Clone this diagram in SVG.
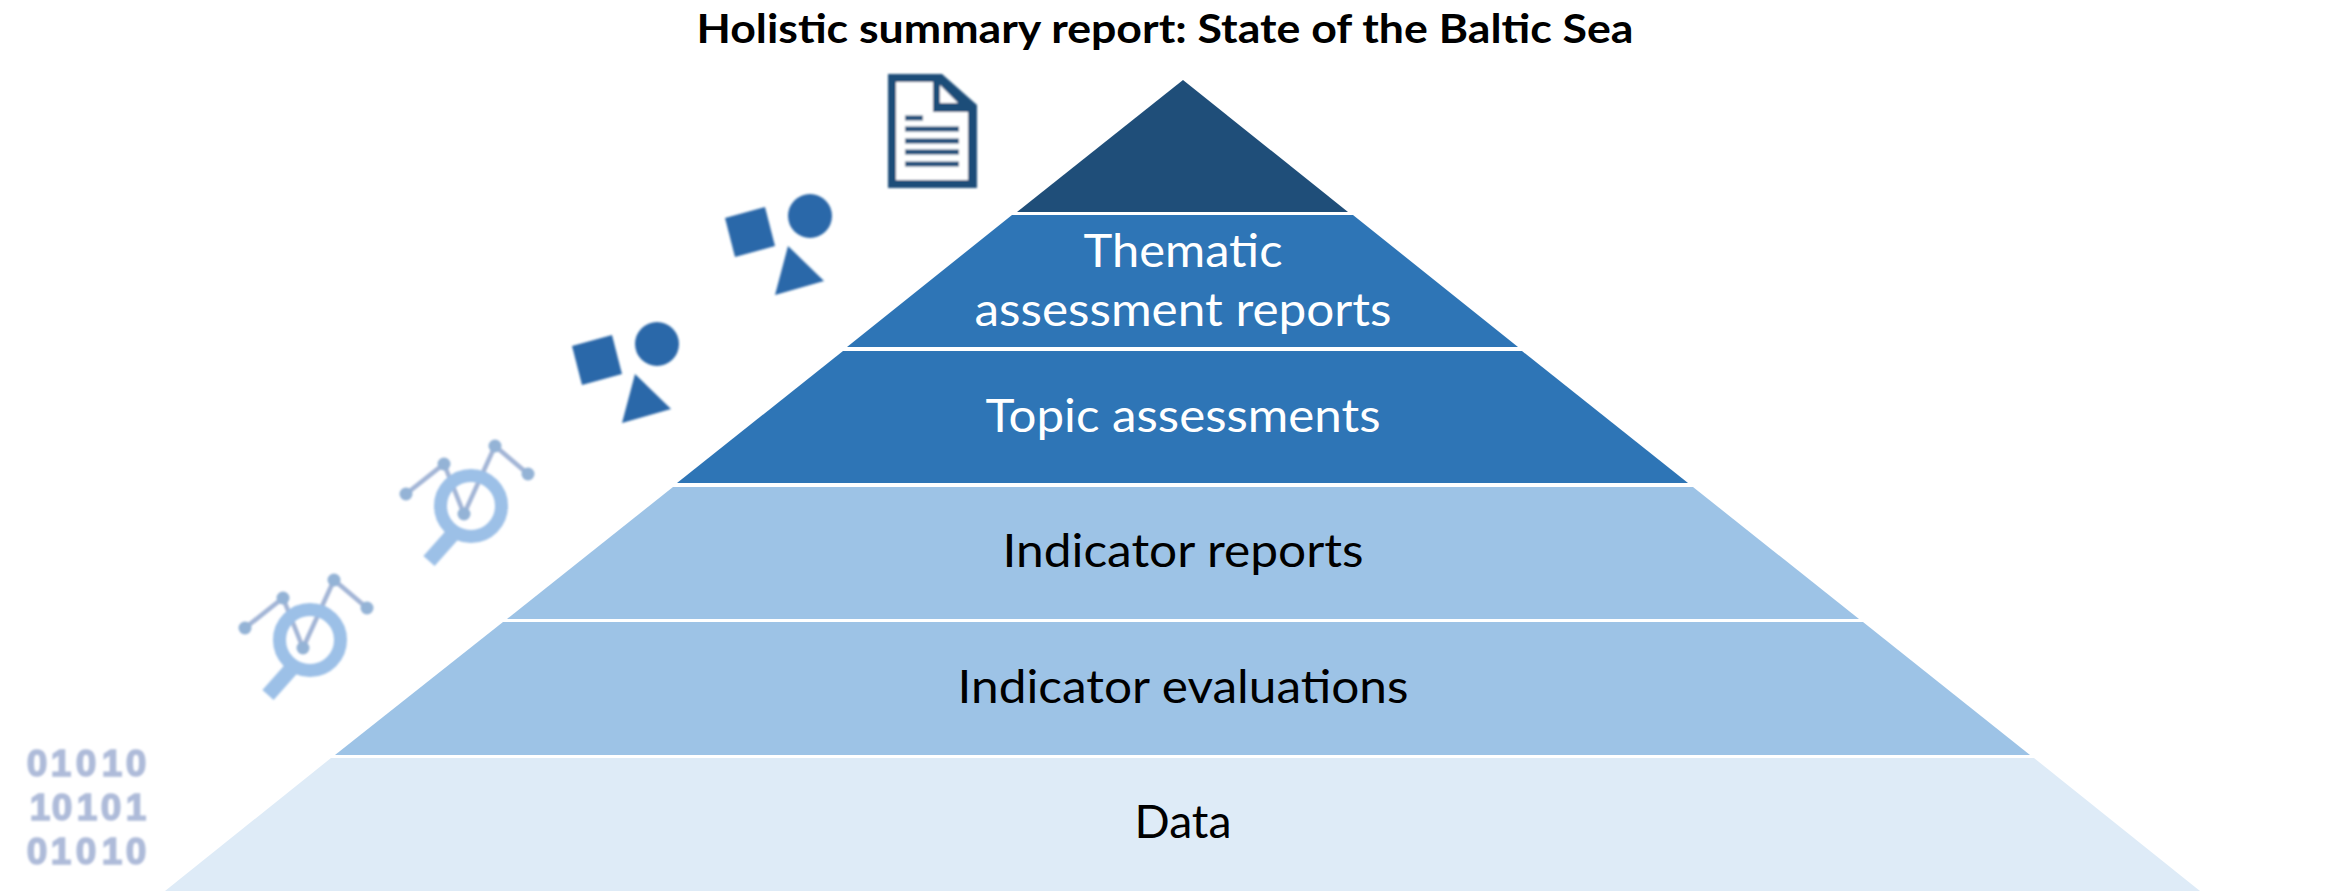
<svg xmlns="http://www.w3.org/2000/svg" width="2326" height="891" viewBox="0 0 2326 891">
<style>
text{font-family:Lato,"Open Sans","Liberation Sans",sans-serif;text-anchor:middle}
.lbl{font-size:46px}
.w{fill:#fff}.k{fill:#000}
.ring{fill:none;stroke:#9cc0e7;stroke-width:13}
.hnd{stroke:#9cc0e7;stroke-width:15;fill:none}
.lnk{stroke:#a3b5d6;stroke-width:4.5;fill:none}
.dot{fill:#94b3d6}
.shp{fill:#2b67a9}
.dl{stroke:#1f4e79;stroke-width:5}
.bin{font-family:"Liberation Sans",sans-serif;font-size:37px;fill:#aebbd9;stroke:#aebbd9;stroke-width:1.5;font-weight:700}
</style>
<defs>
<filter id="soft" x="-10%" y="-10%" width="120%" height="120%"><feGaussianBlur stdDeviation="0.9"/></filter>
<g id="mag">
<path class="lnk" d="M245 628L283 598L303 648L334 580L367 608"/>
<circle class="ring" cx="310" cy="640" r="30.5"/>
<path class="hnd" d="M292 668L268 695"/>
<circle class="dot" cx="245" cy="628" r="6.5"/><circle class="dot" cx="283" cy="598" r="6.5"/><circle class="dot" cx="303" cy="648" r="6.5"/><circle class="dot" cx="334" cy="580" r="6.5"/><circle class="dot" cx="367" cy="608" r="6.5"/>
</g>
<g id="shapes">
<path class="shp" d="M572 346L612 335L622 374L582 385Z"/>
<circle class="shp" cx="657" cy="344" r="22"/>
<path class="shp" d="M635 374L671 409L622 423Z"/>
</g>
</defs>
<rect width="2326" height="891" fill="#fff"/>
<g id="layer-summary"><path fill="#1f4e79" d="M1183 80L1348 212H1017Z"/></g>
<g id="layer-thematic"><path fill="#2e75b6" d="M1012 215H1353L1518 347H847Z"/>
<text class="w lbl" x="1183" y="267" textLength="199" lengthAdjust="spacingAndGlyphs">Thematic</text>
<text class="w lbl" x="1183" y="326" textLength="417" lengthAdjust="spacingAndGlyphs">assessment reports</text></g>
<g id="layer-topic"><path fill="#2e75b6" d="M843 351H1522L1688 483H677Z"/>
<text class="w lbl" x="1183" y="432" textLength="395" lengthAdjust="spacingAndGlyphs">Topic assessments</text></g>
<g id="layer-reports"><path fill="#9dc3e6" d="M673 487H1693L1859 619H507Z"/>
<text class="k lbl" x="1183" y="567" textLength="361" lengthAdjust="spacingAndGlyphs">Indicator reports</text></g>
<g id="layer-evaluations"><path fill="#9dc3e6" d="M503 622H1863L2030 755H335Z"/>
<text class="k lbl" x="1183" y="703" textLength="451" lengthAdjust="spacingAndGlyphs">Indicator evaluations</text></g>
<g id="layer-data"><path fill="#deebf7" d="M331 758H2034L2200 891H165Z"/>
<text class="k lbl" x="1183" y="838" textLength="97" lengthAdjust="spacingAndGlyphs">Data</text></g>
<g id="connectors"/>
<g id="title"><text x="1165" y="43" font-size="40" font-weight="700" fill="#000" textLength="937" lengthAdjust="spacingAndGlyphs">Holistic summary report: State of the Baltic Sea</text></g>
<g id="icon-binary" filter="url(#soft)">
<text class="bin" x="37 61 86 112 136" y="776">01010</text>
<text class="bin" x="40 62 87 111 136" y="820">10101</text>
<text class="bin" x="37 61 86 112 136" y="864">01010</text>
</g>
<g id="icon-indicator-1" filter="url(#soft)"><use href="#mag"/></g>
<g id="icon-indicator-2" filter="url(#soft)"><use href="#mag" transform="translate(161 -134)"/></g>
<g id="icon-shapes-1" filter="url(#soft)"><use href="#shapes"/></g>
<g id="icon-shapes-2" filter="url(#soft)"><use href="#shapes" transform="translate(153 -128)"/></g>
<g id="icon-document" filter="url(#soft)">
<path fill="#1f4e79" d="M888 74H942L977 105V188H888Z"/>
<path fill="#fff" d="M896 82H933V112H968V180H896Z"/>
<path fill="#fff" d="M940 85L958 103H940Z"/>
<path class="dl" d="M905 118H923M905 129H959M905 141H959M905 152H959M905 164H959"/>
</g>
</svg>
